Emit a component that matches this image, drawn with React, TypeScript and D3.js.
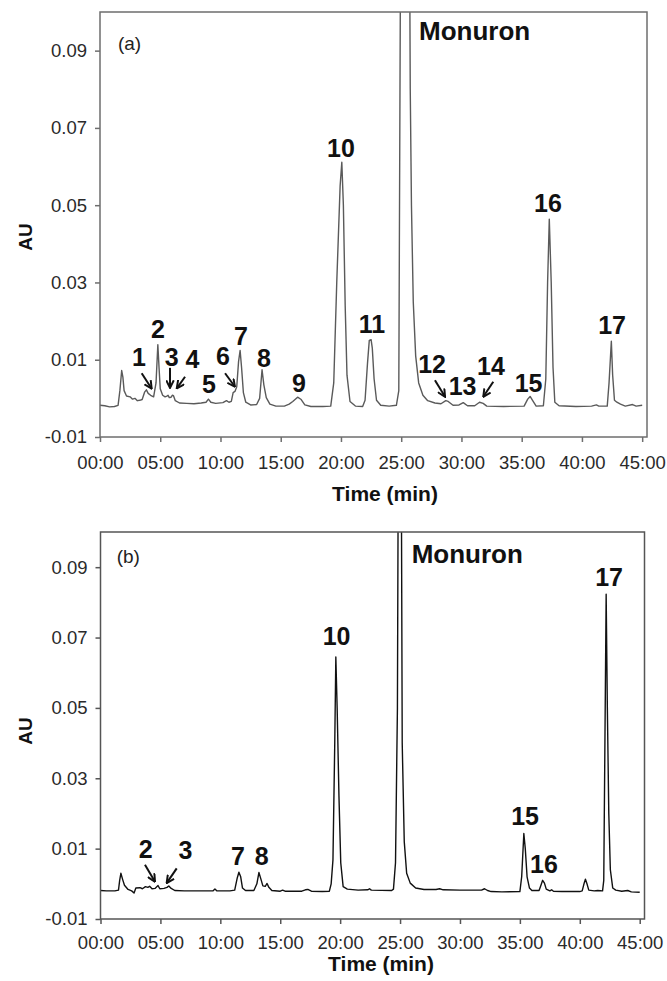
import React, { useEffect, useRef } from 'react';
import * as d3 from 'd3';

// axis ticks
const xTicks = [0, 5, 10, 15, 20, 25, 30, 35, 40, 45];
const yTicks = [-0.01, 0.01, 0.03, 0.05, 0.07, 0.09];

// chromatogram (a) - time in min, absorbance in AU
const timeA = [
  0.0, 0.4, 0.8, 1.2, 1.5, 1.65, 1.8, 1.9, 2.0, 2.2, 2.5, 2.7, 2.9, 3.1, 3.3, 3.5, 3.7, 3.85, 4.0, 4.2,
  4.45, 4.65, 4.8, 4.9, 5.0, 5.2, 5.4, 5.55, 5.65, 5.75, 5.9, 6.0, 6.1, 6.25, 6.6, 7.2, 7.8, 8.4, 8.8, 9.0,
  9.2, 9.6, 10.2, 10.5, 10.7, 10.9, 11.05, 11.2, 11.35, 11.5, 11.63, 11.75, 11.9, 12.1, 12.5, 13.0, 13.25, 13.45, 13.6, 13.8,
  14.1, 14.6, 15.3, 15.7, 16.0, 16.4, 16.7, 17.0, 17.5, 18.5, 19.15, 19.4, 19.65, 19.93, 20.07, 20.2, 20.35, 20.5, 20.75, 21.2,
  21.8, 22.0, 22.2, 22.35, 22.5, 22.6, 22.75, 22.95, 23.3, 24.0, 24.6, 24.8, 25.3, 25.75, 25.85, 26.0, 26.2, 26.45, 26.8, 27.2,
  27.8, 28.3, 28.7, 28.9, 29.3, 29.8, 30.15, 30.5, 31.1, 31.5, 31.8, 32.1, 33.5, 35.2, 35.5, 35.7, 35.9, 36.2, 36.8, 37.0,
  37.15, 37.29, 37.45, 37.6, 37.75, 38.1, 39.5, 40.8, 41.2, 41.4, 42.1, 42.25, 42.44, 42.55, 42.7, 42.9, 43.2, 43.6, 44.2, 44.5,
  45.0,
];
const auA = [
  -0.0018, -0.0019, -0.0022, -0.0021, -0.0018, 0.002, 0.0072, 0.0055, 0.002, 0.0006, 0.0004, -0.0002, 0.0, -0.0006, -0.0005, -0.0003, 0.0016, 0.0022, 0.0013, 0.0008,
  0.0004, 0.004, 0.0139, 0.008, 0.0025, 0.0008, 0.0004, 0.0006, 0.0008, 0.0002, 0.0003, 0.0008, 0.0007, -0.0006, -0.0012, -0.0013, -0.0014, -0.0012, -0.001, -0.0002,
  -0.001, -0.0013, -0.0011, -0.0006, -0.001, -0.0008, 0.0015, 0.0018, 0.003, 0.0095, 0.0124, 0.008, 0.0015, -0.001, -0.0017, -0.0016, 0.0, 0.0074, 0.0035, 0.0002,
  -0.0015, -0.002, -0.002, -0.0015, -0.0008, 0.0003, -0.0003, -0.0017, -0.0021, -0.0021, -0.002, 0.004, 0.03, 0.055, 0.0611, 0.05, 0.024, 0.006, -0.0008, -0.002,
  -0.0021, -0.0005, 0.009, 0.015, 0.0152, 0.013, 0.005, -0.0005, -0.0018, -0.002, -0.0018, 0.002, 0.4, 0.08, 0.05, 0.025, 0.011, 0.004, 0.0008, -0.0006,
  -0.0012, -0.0014, -0.0006, -0.0008, -0.0018, -0.0017, -0.0011, -0.0019, -0.0019, -0.001, -0.0013, -0.002, -0.0021, -0.002, -0.0002, 0.0005, -0.0005, -0.002, -0.0019, 0.005,
  0.03, 0.0464, 0.03, 0.008, -0.001, -0.0019, -0.0021, -0.002, -0.0017, -0.002, -0.002, 0.004, 0.0148, 0.006, -0.0005, -0.001, -0.0015, -0.002, -0.0016, -0.002,
  -0.0018,
];

// chromatogram (b)
const timeB = [
  0.0, 0.5, 1.2, 1.5, 1.6, 1.7, 1.85, 2.0, 2.3, 2.6, 2.8, 2.95, 3.3, 3.5, 3.75, 3.95, 4.1, 4.3, 4.55, 4.8,
  4.95, 5.3, 5.55, 5.7, 5.9, 6.2, 7.0, 8.5, 9.4, 9.55, 9.7, 10.8, 11.2, 11.4, 11.55, 11.7, 11.85, 12.1, 12.8, 13.05,
  13.22, 13.4, 13.55, 13.75, 13.9, 14.05, 14.3, 15.0, 15.2, 15.4, 16.8, 17.1, 17.3, 17.6, 18.5, 19.1, 19.25, 19.4, 19.55, 19.64,
  19.75, 19.9, 20.05, 20.25, 20.6, 21.5, 22.3, 22.45, 22.6, 24.3, 24.45, 24.62, 24.78, 24.98, 25.18, 25.35, 25.55, 25.85, 26.3, 27.0,
  28.0, 28.3, 28.6, 30.0, 31.8, 32.05, 32.3, 32.6, 33.5, 35.0, 35.15, 35.33, 35.45, 35.6, 35.8, 36.0, 36.6, 36.75, 36.9, 37.05,
  37.2, 37.5, 37.65, 37.8, 38.5, 40.0, 40.2, 40.35, 40.47, 40.6, 40.75, 41.2, 41.5, 41.9, 42.0, 42.2, 42.3, 42.42, 42.55, 42.75,
  43.0, 43.5, 44.0, 44.3, 45.0,
];
const auB = [
  -0.0019, -0.002, -0.002, -0.0018, 0.001, 0.003, 0.0012, -0.0004, -0.0016, -0.002, -0.0026, -0.0012, -0.0011, -0.0014, -0.0008, -0.001, -0.0007, -0.0014, -0.0013, -0.0005,
  -0.0014, -0.0013, -0.001, -0.0006, -0.0013, -0.0019, -0.002, -0.002, -0.002, -0.0015, -0.002, -0.002, -0.0018, 0.0015, 0.0033, 0.002, -0.0012, -0.0019, -0.0019, 0.0,
  0.0032, 0.0012, -0.0006, -0.0007, 0.0001, -0.001, -0.0019, -0.0021, -0.0018, -0.0021, -0.0021, -0.0017, -0.0016, -0.0021, -0.0022, -0.0021, 0.0, 0.0068, 0.04, 0.0645,
  0.05, 0.025, 0.006, -0.0008, -0.0015, -0.0018, -0.0017, -0.0014, -0.0018, -0.0019, -0.0015, 0.006, 0.05, 0.25, 0.04, 0.012, 0.003, 0.0002, -0.0012, -0.0016,
  -0.0016, -0.0014, -0.0017, -0.0018, -0.0018, -0.0014, -0.0019, -0.0022, -0.0023, -0.0022, 0.002, 0.0143, 0.01, 0.002, -0.0012, -0.0019, -0.0019, -0.0005, 0.001, 0.0002,
  -0.0015, -0.002, -0.0017, -0.0021, -0.0022, -0.0022, -0.002, 0.0, 0.0013, 0.0, -0.0018, -0.002, -0.0019, -0.002, 0.001, 0.0823, 0.05, 0.02, 0.004, -0.0012,
  -0.0018, -0.0021, -0.0019, -0.0023, -0.0024,
];

// peak labels (anchor time, anchor AU)
const peakNamesA = ['1', '2', '3', '4', '5', '6', '7', '8', '9', '10', '11', '12', '13', '14', '15', '16', '17'];
const peakTimeA = [3.24, 4.81, 5.95, 7.68, 9.05, 10.21, 11.7, 13.61, 16.52, 20.0, 22.58, 27.56, 30.09, 32.45, 35.57, 37.18, 42.5];
const peakAuA = [0.0084, 0.0156, 0.0084, 0.0079, 0.0014, 0.0086, 0.0138, 0.0081, 0.0017, 0.0625, 0.0169, 0.0066, 0.0009, 0.0061, 0.0017, 0.0482, 0.0167];

const peakNamesB = ['2', '3', '7', '8', '10', '15', '16', '17'];
const peakTimeB = [3.78, 7.09, 11.48, 13.45, 19.7, 35.43, 37.01, 42.44];
const peakAuB = [0.0073, 0.0071, 0.0054, 0.0054, 0.0679, 0.0167, 0.0031, 0.0847];

// arrows: [t0, au0, t1, au1]
const arrowsA = [
  [3.46, 0.0065, 4.29, 0.0025],
  [5.81, 0.0079, 5.81, 0.0027],
  [7.06, 0.0056, 6.37, 0.0026],
  [10.38, 0.0065, 11.2, 0.003],
  [27.8, 0.0047, 28.64, 0.0004],
  [32.64, 0.0043, 31.81, 0.0004],
];
const arrowsB = [
  [3.71, 0.0054, 4.55, 0.0006],
  [6.36, 0.0044, 5.52, 0.0002],
];

const FONT = 'Liberation Sans, Arial, Helvetica, sans-serif';
const fmtTime = (d: number) => `${String(d).padStart(2, '0')}:00`;
const fmtAu = (d: number) => d3.format('.2f')(d).replace('\u2212', '-');

function Panel(props: any) {
  const { id, top, bottom, left, right, times, values, names, nameT, nameV, arrows, tag, tagT, tagV, monT, monV, color, axisColor, pad, titleY, auY, titleX } = props;
  const xRef = useRef<SVGGElement>(null);
  const yRef = useRef<SVGGElement>(null);

  const x = d3.scaleLinear().domain([0, 45.4]).range([left, right]);
  const y = d3.scaleLinear().domain([-0.01, 0.1]).range([bottom, top]);

  const pts = times.map((t: number, i: number) => [t, values[i]]);
  const line = d3.line<number[]>().x(d => x(d[0])).y(d => y(d[1]));

  useEffect(() => {
    const gx = d3.select(xRef.current!);
    gx.call(d3.axisBottom(x).tickValues(xTicks).tickFormat((d: any) => fmtTime(d)).tickSize(5).tickPadding(pad));
    const gy = d3.select(yRef.current!);
    gy.call(d3.axisLeft(y).tickValues(yTicks).tickFormat((d: any) => fmtAu(d)).tickSize(5).tickPadding(8));
    [gx, gy].forEach(g => {
      g.select('.domain').remove();
      g.selectAll('line').attr('stroke', axisColor).attr('stroke-width', 1.5);
      g.selectAll('text').attr('font-size', 18.5).attr('font-family', FONT).attr('fill', '#2a2a2a');
    });
  }, []);

  return (
    <g>
      <defs>
        <clipPath id={`clip-${id}`}>
          <rect x={left} y={top} width={right - left} height={bottom - top} />
        </clipPath>
      </defs>
      <path d={line(pts) || ''} fill="none" stroke={color} strokeWidth={1.4} strokeLinejoin="round" clipPath={`url(#clip-${id})`} />
      <rect x={left} y={top} width={right - left} height={bottom - top} fill="none" stroke={axisColor} strokeWidth={1.5} />
      <g ref={xRef} transform={`translate(0,${bottom})`} />
      <g ref={yRef} transform={`translate(${left},0)`} />
      {names.map((n: string, i: number) => (
        <text key={n} x={x(nameT[i])} y={y(nameV[i])} textAnchor="middle" fontFamily={FONT} fontWeight="bold" fontSize={25} fill="#111">{n}</text>
      ))}
      {arrows.map((a: number[], i: number) => (
        <line key={i} x1={x(a[0])} y1={y(a[1])} x2={x(a[2])} y2={y(a[3])} stroke="#111" strokeWidth={2} markerEnd="url(#chev)" />
      ))}
      <text x={x(tagT)} y={y(tagV)} fontFamily={FONT} fontSize={19} fill="#222">{tag}</text>
      <text x={x(monT)} y={y(monV)} fontFamily={FONT} fontWeight="bold" fontSize={26} fill="#111">Monuron</text>
      <text transform={`translate(32,${auY}) rotate(-90)`} textAnchor="middle" fontFamily={FONT} fontWeight="bold" fontSize={19} fill="#111">AU</text>
      <text x={titleX} y={titleY} textAnchor="middle" fontFamily={FONT} fontWeight="bold" fontSize={21} fill="#111">Time (min)</text>
    </g>
  );
}

export default function App() {
  return (
    <svg width={667} height={981} style={{ position: 'absolute', left: 0, top: 0, background: '#fff' }}>
      <defs>
        <marker id="chev" viewBox="0 0 10 10" refX={9} refY={5} markerWidth={9} markerHeight={9} orient="auto" markerUnits="userSpaceOnUse">
          <path d="M0.5,0.8 L9,5 L0.5,9.2" fill="none" stroke="#111" strokeWidth={2.2} />
        </marker>
      </defs>
      <Panel id="a" top={12} bottom={437} left={100} right={647} times={timeA} values={auA}
        names={peakNamesA} nameT={peakTimeA} nameV={peakAuA} arrows={arrowsA}
        tag="(a)" tagT={1.49} tagV={0.0902} monT={26.48} monV={0.0928}
        color="#5a5a5a" axisColor="#6e6e6e" pad={14} titleY={501} titleX={385} auY={237} />
      <Panel id="b" top={532} bottom={919} left={100.5} right={644.5} times={timeB} values={auB}
        names={peakNamesB} nameT={peakTimeB} nameV={peakAuB} arrows={arrowsB}
        tag="(b)" tagT={1.35} tagV={0.0912} monT={25.97} monV={0.0912}
        color="#111" axisColor="#555" pad={12} titleY={971} titleX={381} auY={731} />
    </svg>
  );
}
